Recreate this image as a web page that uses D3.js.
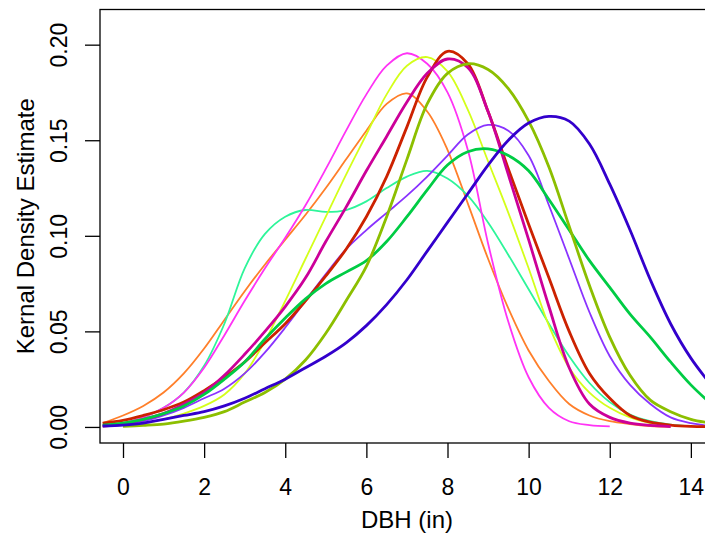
<!DOCTYPE html>
<html>
<head>
<meta charset="utf-8">
<script src="https://cdn.jsdelivr.net/npm/d3@7"></script>
<style>
  body { margin: 0; background: #fff; }
  text { font-family: "Liberation Sans", Arial, Helvetica, sans-serif; fill: #000; }
</style>
</head>
<body>
<div id="chart"></div>
<script>
var dbh = [-0.5, 0, 0.5, 1, 1.5, 2, 2.5, 3, 3.5, 4, 4.5, 5, 5.5, 6, 6.5, 7, 7.5,
           8, 8.5, 9, 9.5, 10, 10.5, 11, 11.5, 12, 12.5, 13, 13.5, 14, 14.5];

// density estimates, one array per curve (null = curve not drawn there)
var orange     = [0.002, 0.006, 0.011, 0.018, 0.028, 0.041, 0.056, 0.071, 0.085, 0.098, 0.111, 0.125, 0.140, 0.155, 0.169, 0.1745, 0.165,
                  0.145, 0.117, 0.088, 0.062, 0.040, 0.024, 0.012, 0.006, 0.003, 0.0015, 0.0005, 0.0001, null, null];
var aquamarine = [0.001, 0.002, 0.005, 0.010, 0.018, 0.032, 0.054, 0.083, 0.101, 0.110, 0.1135, 0.1125, 0.1135, 0.118, 0.125, 0.131, 0.134,
                  0.130, 0.121, 0.107, 0.090, 0.072, 0.054, 0.037, 0.023, 0.013, 0.0065, 0.003, 0.0012, 0.0003, null];
var magenta    = [0.0005, 0.002, 0.005, 0.010, 0.018, 0.031, 0.048, 0.066, 0.083, 0.099, 0.116, 0.135, 0.155, 0.174, 0.189, 0.1955, 0.190,
                  0.175, 0.145, 0.096, 0.055, 0.026, 0.010, 0.003, 0.001, 0.0003, null, null, null, null, null];
var yellow     = [0.0003, 0.001, 0.002, 0.004, 0.007, 0.011, 0.017, 0.028, 0.045, 0.066, 0.088, 0.110, 0.132, 0.153, 0.174, 0.189, 0.1935,
                  0.186, 0.166, 0.139, 0.112, 0.083, 0.053, 0.031, 0.018, 0.010, 0.005, 0.002, 0.0007, null, null];
var purple     = [0.0005, 0.0015, 0.003, 0.006, 0.010, 0.015, 0.020, 0.028, 0.039, 0.052, 0.066, 0.080, 0.093, 0.103, 0.112, 0.121, 0.131,
                  0.142, 0.153, 0.158, 0.155, 0.142, 0.116, 0.088, 0.060, 0.037, 0.022, 0.012, 0.005, 0.002, 0.0005];
var red        = [0.002, 0.0035, 0.006, 0.009, 0.013, 0.019, 0.026, 0.034, 0.044, 0.054, 0.066, 0.079, 0.093, 0.110, 0.131, 0.157, 0.183,
                  0.1965, 0.190, 0.165, 0.135, 0.106, 0.078, 0.050, 0.028, 0.015, 0.006, 0.0025, 0.001, 0.0003, 0.0001];
var darkMagenta = [0.0005, 0.0015, 0.004, 0.007, 0.012, 0.018, 0.027, 0.038, 0.050, 0.063, 0.078, 0.097, 0.115, 0.134, 0.152, 0.170, 0.185,
                  0.1925, 0.188, 0.165, 0.132, 0.098, 0.063, 0.031, 0.012, 0.005, 0.002, 0.0008, 0.0002, null, null];
var green      = [0.001, 0.002, 0.004, 0.007, 0.011, 0.017, 0.025, 0.034, 0.046, 0.057, 0.067, 0.075, 0.081, 0.087, 0.097, 0.110, 0.124,
                  0.137, 0.144, 0.1455, 0.142, 0.134, 0.119, 0.103, 0.087, 0.073, 0.059, 0.047, 0.034, 0.022, 0.012];
var olive      = [null, 0.0003, 0.0008, 0.0015, 0.003, 0.005, 0.008, 0.013, 0.018, 0.025, 0.035, 0.049, 0.066, 0.084, 0.110, 0.140, 0.169,
                  0.185, 0.190, 0.187, 0.177, 0.160, 0.136, 0.105, 0.074, 0.047, 0.027, 0.014, 0.008, 0.004, 0.002];
var blue       = [0.0005, 0.001, 0.002, 0.004, 0.006, 0.008, 0.011, 0.015, 0.020, 0.025, 0.031, 0.037, 0.044, 0.053, 0.064, 0.077, 0.092,
                  0.107, 0.122, 0.137, 0.150, 0.159, 0.1625, 0.160, 0.148, 0.127, 0.103, 0.077, 0.054, 0.036, 0.022];

var xTicks = [0, 2, 4, 6, 8, 10, 12, 14];
var yTicks = [0.00, 0.05, 0.10, 0.15, 0.20];

// drawing order, colour and width of each curve
var curves = [
  {values: orange,      color: "#FF7F2A", w: 1.8},
  {values: aquamarine,  color: "#2EF59A", w: 1.8},
  {values: magenta,     color: "#FF33F5", w: 1.8},
  {values: yellow,      color: "#D4FF1A", w: 1.8},
  {values: purple,      color: "#8A33FF", w: 1.8},
  {values: red,         color: "#CC2200", w: 2.8},
  {values: darkMagenta, color: "#CC0099", w: 2.8},
  {values: green,       color: "#00CC44", w: 2.8},
  {values: olive,       color: "#8CBF00", w: 2.8},
  {values: blue,        color: "#3300CC", w: 2.8}
];

var W = 705, H = 533;
var plot = {left: 100, right: 714, top: 9.5, bottom: 443};

var svg = d3.select("#chart").append("svg")
            .attr("width", W)
            .attr("height", H);

var xScale = d3.scaleLinear().domain([-0.567, 14.57]).range([plot.left, plot.right]);
var yScale = d3.scaleLinear().domain([-0.0084, 0.2184]).range([plot.bottom, plot.top]);

svg.append("clipPath").attr("id", "clip")
   .append("rect")
   .attr("x", plot.left).attr("y", plot.top)
   .attr("width", plot.right - plot.left).attr("height", plot.bottom - plot.top);

var line = d3.line()
  .defined(function(d){ return d[1] !== null; })
  .x(function(d){ return xScale(d[0]); })
  .y(function(d){ return yScale(d[1]); })
  .curve(d3.curveCatmullRom.alpha(0.5));

svg.append("g").attr("clip-path", "url(#clip)")
  .selectAll("path")
  .data(curves)
  .enter()
  .append("path")
  .attr("d", function(c){ return line(dbh.map(function(x, i){ return [x, c.values[i]]; })); })
  .attr("fill", "none")
  .attr("stroke", function(c){ return c.color; })
  .attr("stroke-width", function(c){ return c.w; })
  .attr("stroke-linejoin", "round");

// box
svg.append("rect")
   .attr("x", plot.left).attr("y", plot.top)
   .attr("width", plot.right - plot.left).attr("height", plot.bottom - plot.top)
   .attr("fill", "none").attr("stroke", "#000").attr("stroke-width", 1.3);

var xAxis = d3.axisBottom(xScale).tickValues(xTicks).tickSize(15).tickPadding(21)
              .tickFormat(d3.format("d"));
var yAxis = d3.axisLeft(yScale).tickValues(yTicks).tickSize(15)
              .tickFormat(d3.format(".2f"));

var xAxisGroup = svg.append("g")
   .attr("transform", "translate(0," + plot.bottom + ")")
   .call(xAxis);
var yAxisGroup = svg.append("g")
   .attr("transform", "translate(" + plot.left + ",0)")
   .call(yAxis);

[xAxisGroup, yAxisGroup].forEach(function(g){
  g.select(".domain").remove();
  g.selectAll(".tick line").attr("stroke", "#000").attr("stroke-width", 1.3);
  g.selectAll(".tick text").style("font-size", "23px")
   .style("font-family", '"Liberation Sans", Arial, sans-serif').attr("fill", "#000");
});

yAxisGroup.selectAll(".tick text")
  .attr("x", null).attr("dy", null)
  .attr("text-anchor", "middle")
  .attr("transform", "translate(-33,0) rotate(-90)");

svg.append("text")
   .attr("x", (plot.left + plot.right) / 2)
   .attr("y", 528)
   .attr("text-anchor", "middle")
   .style("font-size", "24px")
   .text("DBH (in)");

svg.append("text")
   .attr("transform", "translate(34," + (plot.top + plot.bottom) / 2 + ") rotate(-90)")
   .attr("text-anchor", "middle")
   .style("font-size", "24px")
   .text("Kernal Density Estimate");
</script>
</body>
</html>
